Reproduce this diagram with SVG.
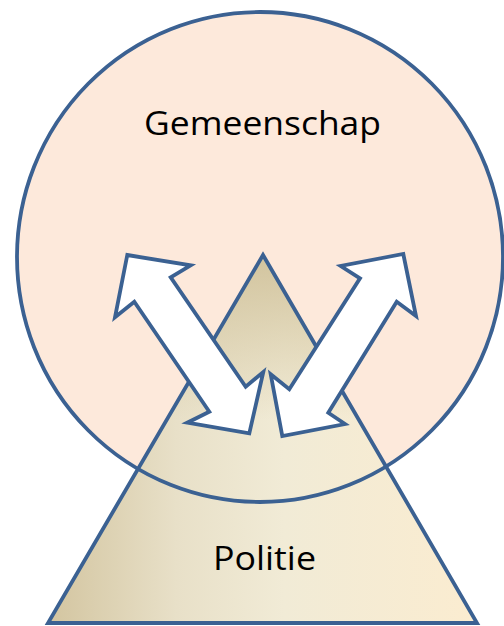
<svg xmlns="http://www.w3.org/2000/svg" width="504" height="626" viewBox="0 0 504 626">
<defs>
<linearGradient id="triH" gradientUnits="userSpaceOnUse" x1="48" y1="0" x2="477" y2="0">
<stop offset="0" stop-color="#d3c5a0"/>
<stop offset="0.3" stop-color="#e8e0c8"/>
<stop offset="0.55" stop-color="#f1ebd6"/>
<stop offset="1" stop-color="#fbecd0"/>
</linearGradient>
<linearGradient id="triV" gradientUnits="userSpaceOnUse" x1="0" y1="255" x2="0" y2="420">
<stop offset="0" stop-color="#d2c49e" stop-opacity="1"/>
<stop offset="1" stop-color="#d2c49e" stop-opacity="0"/>
</linearGradient>
<style>
.ln{stroke:#3b6192;stroke-width:3.8;stroke-linejoin:miter}
.arrow{fill:#ffffff;stroke:#3b6192;stroke-width:3.8;stroke-linejoin:miter}
.lbl{font-family:"Open Sans","Noto Sans","Liberation Sans",sans-serif;font-size:32px;fill:#000000;text-anchor:middle}
</style>
</defs>
<g id="gemeenschap-fill">
<ellipse cx="260" cy="257" rx="243" ry="245" fill="#fde9db"/>
</g>
<g id="politie">
<polygon points="263,255 477,623 48,623" fill="url(#triH)"/>
<polygon points="263,255 477,623 48,623" fill="url(#triV)"/>
<polygon class="ln" points="263,255 477,623 48,623" fill="none"/>
<text class="lbl" x="264.5" y="570" textLength="103" lengthAdjust="spacingAndGlyphs">Politie</text>
</g>
<g id="gemeenschap">
<ellipse class="ln" cx="260" cy="257" rx="243" ry="245" fill="none"/>
<text class="lbl" x="262.5" y="135" textLength="237" lengthAdjust="spacingAndGlyphs">Gemeenschap</text>
</g>
<g id="connectors">
<polygon class="arrow" points="127.3,255 190.7,265.3 170.7,277.3 245.7,386.7 263.3,372 249.3,433.3 187.3,422.7 209.3,411.7 134.3,301.7 115,317.3"/>
<polygon class="arrow" points="403.3,254 416,316 396.7,301.7 328.3,412.7 345,424 282.3,436 270.7,374.3 289.3,389.3 360,278.3 340.7,266"/>
</g>
</svg>
